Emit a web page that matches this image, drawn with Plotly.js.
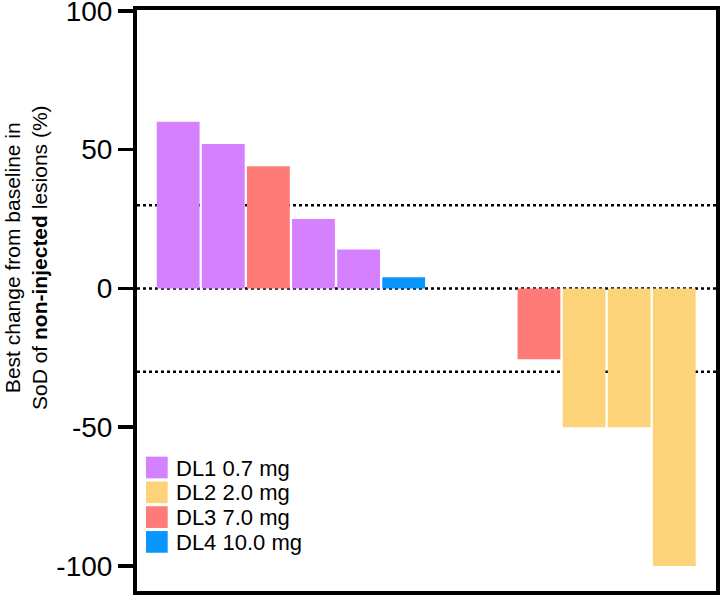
<!DOCTYPE html>
<html>
<head>
<meta charset="utf-8">
<script src="https://cdn.plot.ly/plotly-3.0.1.min.js"></script>
<style>
  html, body { margin: 0; padding: 0; background: #ffffff; }
  #chart { width: 720px; height: 595px; }
</style>
</head>
<body>
<div id="chart"></div>
<script>
// ---- Data ----
// One entry per patient, in waterfall order (null = no measurable value drawn)
const patientValues = [60, 52, 44, 25, 14, 4, null, null, -25.5, -50, -50, -100];
const patientDose   = ['DL1', 'DL1', 'DL3', 'DL1', 'DL1', 'DL4', null, null, 'DL3', 'DL2', 'DL2', 'DL2'];

const doseLevels = ['DL1', 'DL2', 'DL3', 'DL4'];
const doseLabels = ['DL1 0.7 mg', 'DL2 2.0 mg', 'DL3 7.0 mg', 'DL4 10.0 mg'];
const doseColors = ['#D580FF', '#FDD37A', '#FF7B78', '#0A96FF'];

const yTickVals = [-100, -50, 0, 50, 100];
const thresholdLines = [30, 0, -30];

const yTitle = 'Best change from baseline in<br>SoD of <b>non-injected</b> lesions (%)';

// ---- Layout geometry ----
const W = 720, H = 595;
const M = { l: 137, r: 4, t: 10, b: 4 };
const plotW = W - M.l - M.r, plotH = H - M.t - M.b;
const pxX = px => (px - M.l) / plotW;
const pxY = py => (H - M.b - py) / plotH;

const FONT = 'Liberation Sans, Arial, Helvetica, sans-serif';

// ---- Traces ----
const traces = doseLevels.map((lvl, i) => {
  const xs = [], ys = [];
  patientValues.forEach((v, k) => {
    if (patientDose[k] === lvl && v !== null) { xs.push(k); ys.push(v); }
  });
  return {
    type: 'bar',
    name: doseLabels[i],
    x: xs,
    y: ys,
    width: 0.95,
    marker: { color: doseColors[i], line: { width: 0 } },
    showlegend: false,
    hoverinfo: 'x+y'
  };
});

// ---- Shapes: dotted reference lines + legend swatches ----
const shapes = thresholdLines.map(v => ({
  type: 'line', xref: 'paper', yref: 'y',
  x0: 0, x1: 1, y0: v, y1: v,
  line: { color: '#000000', width: 2.5, dash: 'dot' },
  layer: 'below'
}));

const legendRow0 = 467.5, legendStep = 24.8, sw = 21.7;
const annotations = [];
doseLabels.forEach((lab, i) => {
  const cy = legendRow0 + i * legendStep;
  shapes.push({
    type: 'rect', xref: 'paper', yref: 'paper',
    x0: pxX(146), x1: pxX(146 + sw),
    y0: pxY(cy + sw / 2), y1: pxY(cy - sw / 2),
    fillcolor: doseColors[i], line: { width: 0 }
  });
  annotations.push({
    xref: 'paper', yref: 'paper',
    x: pxX(174), y: pxY(cy + 0.5),
    xanchor: 'left', yanchor: 'middle',
    text: lab, showarrow: false,
    font: { family: FONT, size: 22, color: '#000000' }
  });
});

annotations.push({
  xref: 'paper', yref: 'paper',
  x: pxX(26), y: pxY(258),
  xanchor: 'center', yanchor: 'middle',
  textangle: -90,
  text: yTitle, showarrow: false,
  font: { family: FONT, size: 21, color: '#000000' }
});

const layout = {
  width: W, height: H,
  margin: M,
  paper_bgcolor: '#ffffff',
  plot_bgcolor: '#ffffff',
  barmode: 'overlay',
  showlegend: false,
  font: { family: FONT, color: '#000000' },
  xaxis: {
    range: [-0.913, 11.925],
    showticklabels: false,
    ticks: '',
    showgrid: false,
    zeroline: false,
    showline: true,
    linecolor: '#000000',
    linewidth: 4,
    mirror: true,
    fixedrange: true
  },
  yaxis: {
    range: [-109, 100.3],
    tickvals: yTickVals,
    ticktext: yTickVals.map(String),
    ticks: 'outside',
    ticklen: 15,
    tickwidth: 3.5,
    tickcolor: '#000000',
    tickfont: { family: FONT, size: 28, color: '#000000' },
    ticklabeloverflow: 'allow',
    showgrid: false,
    zeroline: false,
    showline: true,
    linecolor: '#000000',
    linewidth: 4,
    mirror: true,
    fixedrange: true
  },
  shapes: shapes,
  annotations: annotations
};

Plotly.newPlot('chart', traces, layout, { displayModeBar: false, staticPlot: true });
</script>
</body>
</html>
